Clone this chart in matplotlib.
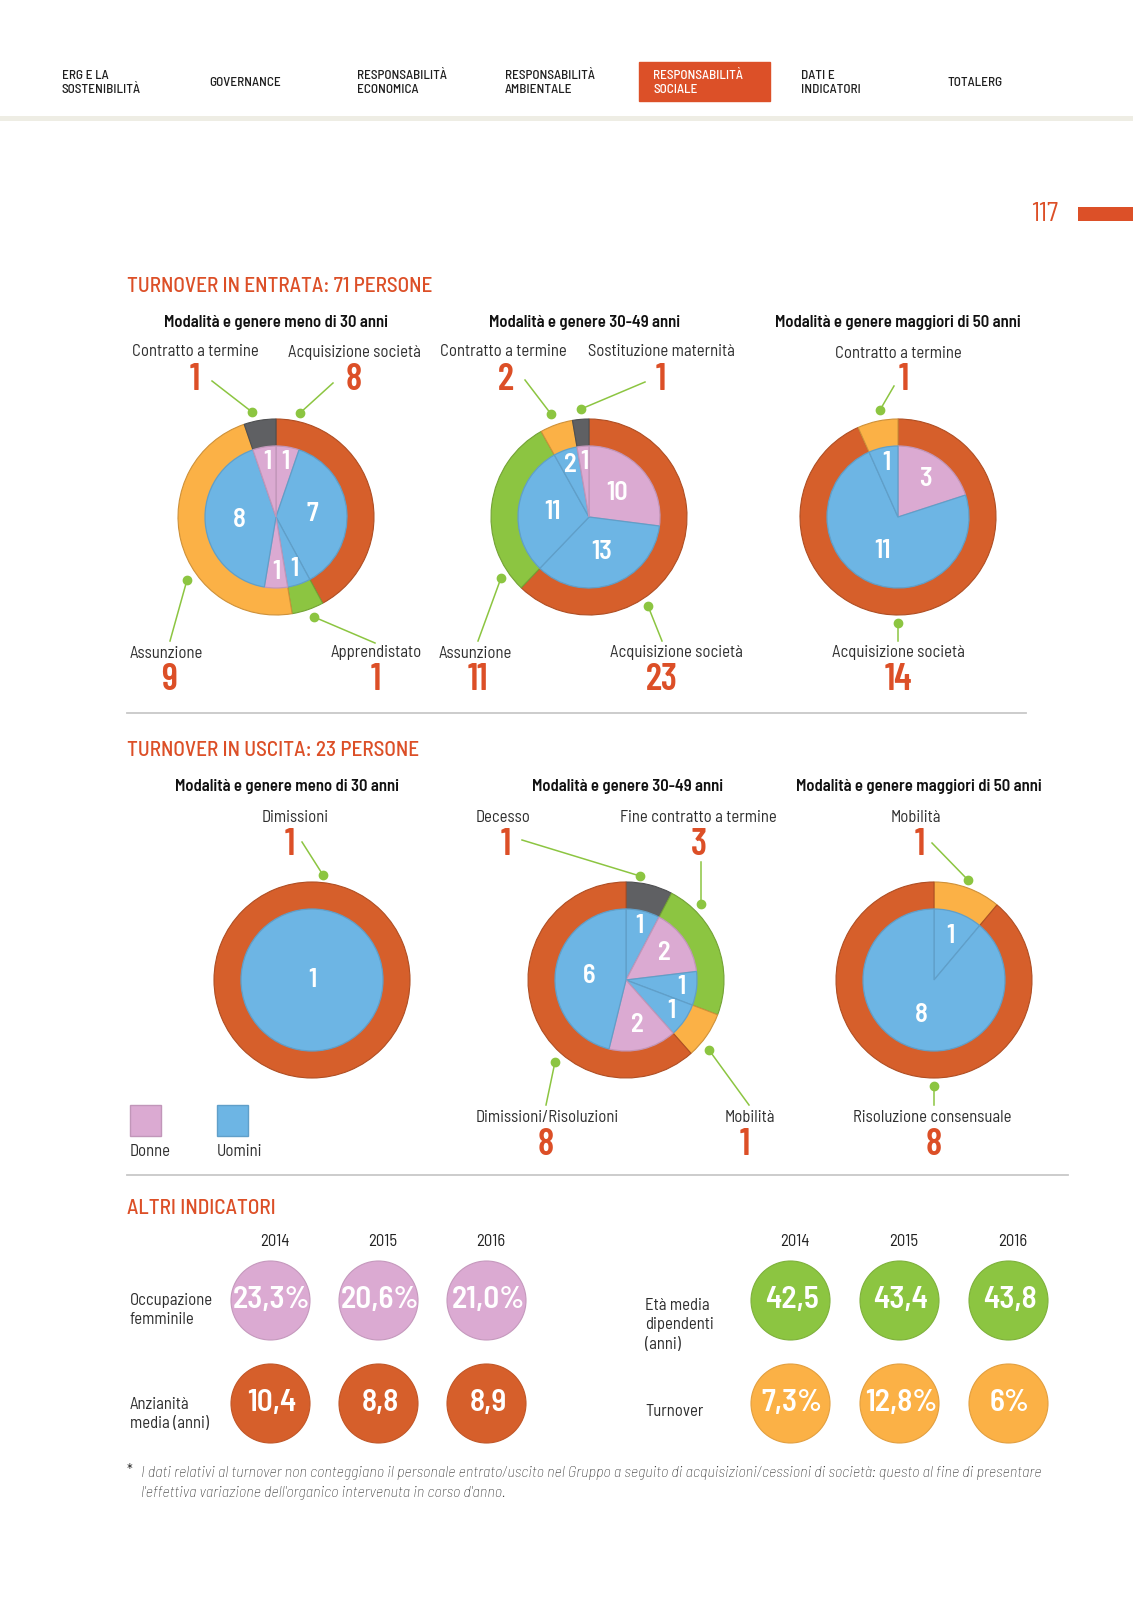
import numpy as np
import matplotlib
matplotlib.use("Agg")
import matplotlib.pyplot as plt
from matplotlib.patches import Rectangle

plt.rcParams['font.family'] = ['Barlow Semi Condensed', 'DejaVu Sans']
NUMFONT = ['Barlow Condensed', 'DejaVu Sans']

W, H = 1133, 1600

# colours
RED = '#d65f2b'
YEL = '#fbb146'
GRN = '#8cc541'
GRY = '#5f6063'
BLU = '#6db5e4'
PNK = '#dbaad2'
TITLE = '#dc4f27'
DOT = '#8cc541'
TXT = '#2e2e2e'

# ---- data ----
nav_items = ['ERG E LA\nSOSTENIBILITÀ', 'GOVERNANCE', 'RESPONSABILITÀ\nECONOMICA',
             'RESPONSABILITÀ\nAMBIENTALE', 'RESPONSABILITÀ\nSOCIALE', 'DATI E\nINDICATORI', 'TOTALERG']
active_nav = 4

# turnover in entrata
in_lt30_cat = ['Acquisizione società', 'Apprendistato', 'Assunzione', 'Contratto a termine']
in_lt30_val = [8, 1, 9, 1]
in_lt30_gen = [1, 7, 1, 1, 8, 1]
in_lt30_sex = ['D', 'U', 'U', 'D', 'U', 'D']

in_mid_cat = ['Acquisizione società', 'Assunzione', 'Contratto a termine', 'Sostituzione maternità']
in_mid_val = [23, 11, 2, 1]
in_mid_gen = [10, 13, 11, 2, 1]
in_mid_sex = ['D', 'U', 'U', 'U', 'D']

in_gt50_cat = ['Acquisizione società', 'Contratto a termine']
in_gt50_val = [14, 1]
in_gt50_gen = [3, 11, 1]
in_gt50_sex = ['D', 'U', 'U']

# turnover in uscita
out_lt30_cat = ['Dimissioni']
out_lt30_val = [1]
out_lt30_gen = [1]
out_lt30_sex = ['U']

out_mid_cat = ['Decesso', 'Fine contratto a termine', 'Mobilità', 'Dimissioni/Risoluzioni']
out_mid_val = [1, 3, 1, 8]
out_mid_gen = [1, 2, 1, 1, 2, 6]
out_mid_sex = ['U', 'D', 'U', 'U', 'D', 'U']

out_gt50_cat = ['Mobilità', 'Risoluzione consensuale']
out_gt50_val = [1, 8]
out_gt50_gen = [1, 8]
out_gt50_sex = ['U', 'U']

# altri indicatori
years = ['2014', '2015', '2016']
occ_femminile = ['23,3%', '20,6%', '21,0%']
anzianita_media = ['10,4', '8,8', '8,9']
eta_media = ['42,5', '43,4', '43,8']
turnover = ['7,3%', '12,8%', '6%']

fig = plt.figure(figsize=(W / 100, H / 100), dpi=100)
ax = fig.add_axes([0, 0, 1, 1])
ax.set_xlim(0, W)
ax.set_ylim(H, 0)
ax.axis('off')

# ---- header ----
nav_x = [62, 209, 357, 505, 653, 801, 948]
ax.add_patch(Rectangle((639, 62), 131, 39, color='#dc5028', zorder=1))
for i, (lab, x) in enumerate(zip(nav_items, nav_x)):
    ax.text(x, 83, lab, fontsize=9.5, fontweight='medium', ha='left', va='center', linespacing=1.3,
            color='white' if i == active_nav else '#1e1e1e', zorder=2)
ax.add_patch(Rectangle((0, 116), W, 5, color='#eeede4', lw=0))

ax.text(1058, 214, '117', fontsize=19, color=TITLE, ha='right', va='center')
ax.add_patch(Rectangle((1078, 207), 55, 14, color='#dc5028', lw=0))

# ---- section titles ----
for y, s in [(287, 'TURNOVER IN ENTRATA: 71 PERSONE'), (750, 'TURNOVER IN USCITA: 23 PERSONE'),
             (1209, 'ALTRI INDICATORI')]:
    ax.text(127, y, s, fontsize=15.3, fontweight='medium', color=TITLE, va='center')
ax.plot([127, 1026], [713, 713], color='#c8c8c8', lw=1.3)
ax.plot([127, 1068], [1175, 1175], color='#c8c8c8', lw=1.3)

subtitles = [(276, 322, 'Modalità e genere meno di 30 anni'),
             (585, 322, 'Modalità e genere 30-49 anni'),
             (898, 322, 'Modalità e genere maggiori di 50 anni'),
             (287, 787, 'Modalità e genere meno di 30 anni'),
             (628, 787, 'Modalità e genere 30-49 anni'),
             (919, 787, 'Modalità e genere maggiori di 50 anni')]
for x, y, s in subtitles:
    ax.text(x, y, s, fontsize=12, fontweight='semibold', ha='center', va='center', color='#111111')


def darker(c, f=0.82):
    r, g, b = matplotlib.colors.to_rgb(c)
    return (r * f, g * f, b * f)


def donut(cx, cy, outer_vals, outer_cols, inner_vals, inner_sex):
    pax = fig.add_axes([(cx - 110) / W, 1 - (cy + 110) / H, 220 / W, 220 / H])
    wo, _ = pax.pie(outer_vals, colors=outer_cols, radius=0.98, startangle=90,
                    counterclock=False, wedgeprops=dict(lw=0.8))
    for w, c in zip(wo, outer_cols):
        w.set_edgecolor(darker(c))
    icols = [PNK if s == 'D' else BLU for s in inner_sex]
    wi, _ = pax.pie(inner_vals, colors=icols, radius=0.71, startangle=90,
                    counterclock=False, wedgeprops=dict(lw=0.9))
    tot = sum(inner_vals)
    for w, c, v in zip(wi, icols, inner_vals):
        w.set_edgecolor(darker(c, 0.88))
        frac = v / tot
        if frac >= 0.999:
            d = 0.0
        elif frac < 0.1:
            d = 0.78
        elif frac < 0.25:
            d = 0.66
        else:
            d = 0.52
        a = np.deg2rad((w.theta1 + w.theta2) / 2)
        pax.text(d * 0.71 * np.cos(a), d * 0.71 * np.sin(a), str(v), color='white',
                 fontsize=19, fontweight='semibold', ha='center', va='center')
    pax.set_xlim(-1.1, 1.1)
    pax.set_ylim(-1.1, 1.1)
    pax.axis('off')


def callout(label, value, tx, ty, p1, p2):
    ax.text(tx, ty, label, fontsize=12, ha='center', va='center', color=TXT)
    ax.text(value[1], value[2], str(value[0]), fontsize=27, fontweight='semibold',
            family=NUMFONT, ha='center', va='center', color=TITLE)
    ax.plot([p1[0], p2[0]], [p1[1], p2[1]], color=DOT, lw=1.1)
    ax.plot(p2[0], p2[1], 'o', color=DOT, ms=6)


# ---- row 1 ----
donut(276, 517, in_lt30_val, [RED, GRN, YEL, GRY], in_lt30_gen, in_lt30_sex)
donut(589, 517, in_mid_val, [RED, GRN, YEL, GRY], in_mid_gen, in_mid_sex)
donut(898, 517, in_gt50_val, [RED, YEL], in_gt50_gen, in_gt50_sex)

callout(in_lt30_cat[3], (in_lt30_val[3], 195, 380), 195, 352, (212, 381), (252, 412))
callout(in_lt30_cat[0], (in_lt30_val[0], 354, 380), 354, 352, (333, 383), (300, 413))
callout(in_lt30_cat[2], (in_lt30_val[2], 169, 680), 166, 653, (170, 641), (187, 580))
callout(in_lt30_cat[1], (in_lt30_val[1], 376, 680), 376, 653, (375, 643), (314, 617))

callout(in_mid_cat[2], (in_mid_val[2], 506, 380), 503, 352, (525, 380), (551, 414))
callout(in_mid_cat[3], (in_mid_val[3], 661, 380), 661, 352, (645, 382), (581, 409))
callout(in_mid_cat[1], (in_mid_val[1], 478, 680), 475, 653, (478, 641), (501, 578))
callout(in_mid_cat[0], (in_mid_val[0], 662, 680), 676, 653, (662, 641), (648, 606))

callout(in_gt50_cat[1], (in_gt50_val[1], 904, 380), 898, 354, (894, 386), (880, 410))
callout(in_gt50_cat[0], (in_gt50_val[0], 898, 680), 898, 653, (898, 641), (898, 623))

# ---- row 2 ----
donut(312, 980, out_lt30_val, [RED], out_lt30_gen, out_lt30_sex)
donut(626, 980, out_mid_val, [GRY, GRN, YEL, RED], out_mid_gen, out_mid_sex)
donut(934, 980, out_gt50_val, [YEL, RED], out_gt50_gen, out_gt50_sex)

callout(out_lt30_cat[0], (out_lt30_val[0], 290, 845), 295, 817, (302, 842), (323, 875))

callout(out_mid_cat[0], (out_mid_val[0], 506, 845), 503, 817, (522, 840), (640, 876))
callout(out_mid_cat[1], (out_mid_val[1], 699, 845), 698, 817, (701, 862), (701, 904))
callout(out_mid_cat[3], (out_mid_val[3], 546, 1145), 547, 1117, (546, 1105), (555, 1062))
callout(out_mid_cat[2], (out_mid_val[2], 745, 1145), 750, 1117, (749, 1105), (709, 1050))

callout(out_gt50_cat[0], (out_gt50_val[0], 920, 845), 916, 817, (932, 843), (968, 880))
callout(out_gt50_cat[1], (out_gt50_val[1], 934, 1145), 932, 1117, (934, 1105), (934, 1086))

# legend
ax.add_patch(Rectangle((130, 1105), 31, 31, fc=PNK, ec=darker(PNK, 0.88), lw=1))
ax.add_patch(Rectangle((217, 1105), 31, 31, fc=BLU, ec=darker(BLU, 0.88), lw=1))
ax.text(130, 1151, 'Donne', fontsize=12, va='center', color=TXT)
ax.text(217, 1151, 'Uomini', fontsize=12, va='center', color=TXT)

# ---- altri indicatori ----
left_x = [270, 378, 486]
right_x = [790, 899, 1008]
for xs in (left_x, right_x):
    for x, yr in zip(xs, years):
        ax.text(x + 5, 1242, yr, fontsize=12, ha='center', va='center', color='#222222')

rows = [(left_x, 1300, occ_femminile, PNK), (left_x, 1403, anzianita_media, RED),
        (right_x, 1300, eta_media, GRN), (right_x, 1403, turnover, YEL)]
for xs, y, vals, col in rows:
    ax.scatter(xs, [y] * len(xs), s=(79 * 0.72) ** 2, color=col,
               edgecolors=darker(col, 0.9), linewidths=0.8, zorder=3)
    for x, v in zip(xs, vals):
        ax.text(x + 2, y, v, fontsize=22.5, fontweight='semibold', color='white',
                ha='center', va='center', zorder=4)

ax.text(130, 1310, 'Occupazione\nfemminile', fontsize=12, va='center', color=TXT, linespacing=1.4)
ax.text(130, 1414, 'Anzianità\nmedia (anni)', fontsize=12, va='center', color=TXT, linespacing=1.4)
ax.text(645, 1325, 'Età media\ndipendenti\n(anni)', fontsize=12, va='center', color=TXT, linespacing=1.4)
ax.text(645, 1412, 'Turnover', fontsize=12, va='center', color=TXT)

# footnote
ax.text(127, 1471, '*', fontsize=11, va='center', color=TXT)
ax.text(141, 1473, "I dati relativi al turnover non conteggiano il personale entrato/uscito nel Gruppo a seguito "
        "di acquisizioni/cessioni di società: questo al fine di presentare",
        fontsize=11.7, fontweight='light', style='italic', va='center', color=TXT)
ax.text(141, 1493, "l'effettiva variazione dell'organico intervenuta in corso d'anno.",
        fontsize=11.7, fontweight='light', style='italic', va='center', color=TXT)

fig.savefig('out.png', dpi=100)
